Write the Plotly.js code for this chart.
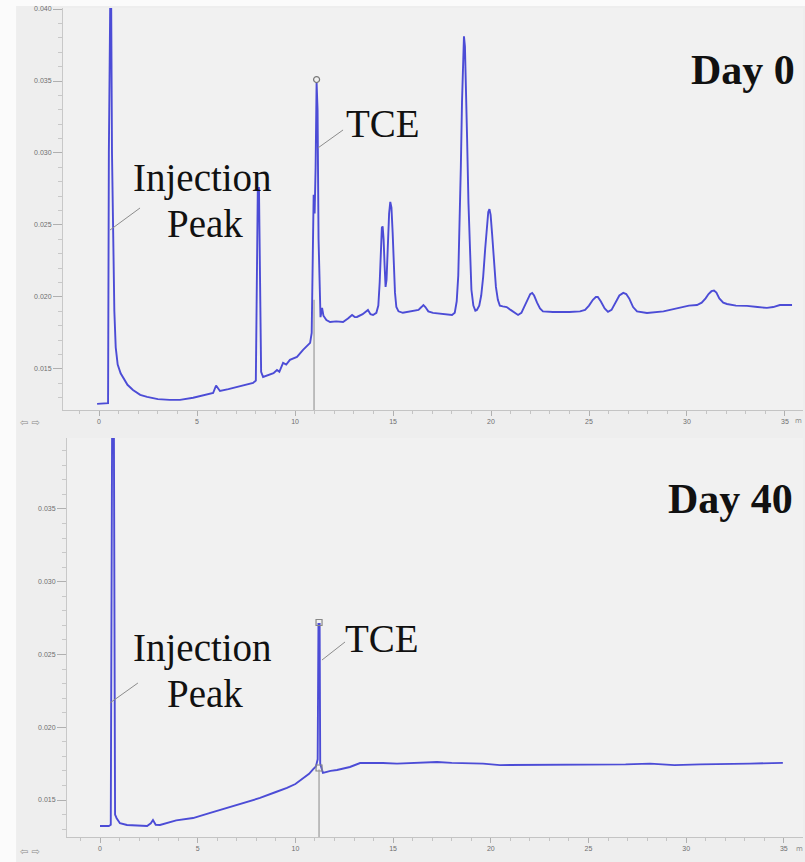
<!DOCTYPE html>
<html>
<head>
<meta charset="utf-8">
<script src="https://cdn.plot.ly/plotly-3.0.1.min.js"></script>
<style>html,body{margin:0;padding:0;background:#fff;}#chart{width:805px;height:862px;}</style>
</head>
<body>
<div id="chart"></div>
<script>
// Day 0 chromatogram (retention time in min, detector signal)
const day0Time = [-0.1,0.3,0.46,0.5,0.53,0.6,0.66,0.71,0.78,0.85,0.95,1.1,1.22,1.45,1.73,2.1,2.45,3.0,3.6,4.13,4.8,5.4,5.82,5.97,6.1,6.17,6.6,7.2,7.86,8.0,8.06,8.1,8.16,8.22,8.27,8.37,8.72,8.9,9.08,9.2,9.39,9.55,9.74,9.9,10.1,10.41,10.6,10.77,10.85,10.9,10.95,11.0,11.05,11.1,11.15,11.2,11.25,11.3,11.38,11.45,11.6,11.79,12.1,12.45,12.7,12.91,13.05,13.16,13.45,13.72,13.85,13.98,14.15,14.25,14.32,14.38,14.43,14.47,14.52,14.57,14.62,14.67,14.73,14.8,14.86,14.92,14.98,15.04,15.1,15.17,15.28,15.5,16.0,16.3,16.45,16.55,16.65,16.8,17.04,17.5,18.01,18.15,18.25,18.33,18.4,18.46,18.52,18.57,18.62,18.67,18.72,18.78,18.85,18.92,19.0,19.1,19.2,19.28,19.4,19.5,19.6,19.7,19.78,19.86,19.92,19.98,20.06,20.15,20.25,20.35,20.45,20.6,20.8,21.0,21.2,21.38,21.55,21.7,21.85,22.0,22.1,22.2,22.35,22.5,22.65,23.16,24.0,24.54,24.8,25.0,25.2,25.35,25.45,25.6,25.8,25.97,26.15,26.35,26.55,26.75,26.9,27.05,27.25,27.45,27.6,27.96,28.8,29.64,30.1,30.51,30.75,30.95,31.1,31.25,31.38,31.5,31.65,31.85,32.04,32.5,33.06,33.6,34.08,34.4,34.74,35.36];
const day0Signal = [0.01257,0.01257,0.01262,0.0300,0.0450,0.0450,0.0300,0.02444,0.0190,0.0165,0.0153,0.0147,0.01444,0.0139,0.01354,0.0132,0.01306,0.0129,0.01285,0.01285,0.0130,0.0132,0.01333,0.01385,0.0136,0.01347,0.0136,0.0138,0.01403,0.0142,0.0200,0.02757,0.02757,0.0200,0.0148,0.01444,0.01458,0.0147,0.01493,0.0148,0.01542,0.0153,0.01563,0.0157,0.01583,0.01632,0.0166,0.01681,0.0175,0.0220,0.0271,0.0258,0.0290,0.0349,0.0330,0.0240,0.0200,0.0186,0.01924,0.0187,0.0184,0.01826,0.0183,0.01826,0.0185,0.01875,0.0186,0.01861,0.0188,0.0191,0.0188,0.01875,0.0189,0.0194,0.0210,0.0234,0.0248,0.0249,0.0240,0.0222,0.0207,0.0212,0.0238,0.0258,0.0266,0.0262,0.0245,0.0222,0.0203,0.0193,0.0190,0.0189,0.0190,0.0191,0.0193,0.01944,0.0193,0.0190,0.01889,0.0188,0.01875,0.0189,0.0197,0.0215,0.0248,0.0290,0.0335,0.0366,0.0381,0.0374,0.0350,0.0310,0.0265,0.0228,0.0205,0.0194,0.01905,0.0191,0.0194,0.0201,0.0214,0.0233,0.0250,0.0259,0.0261,0.0257,0.0243,0.0224,0.0207,0.0198,0.0194,0.01935,0.0193,0.0191,0.0189,0.01875,0.0189,0.0193,0.0198,0.0202,0.02028,0.0201,0.0196,0.0192,0.0190,0.01896,0.01896,0.0190,0.0191,0.0194,0.0198,0.0200,0.0200,0.0197,0.0192,0.01896,0.0191,0.0196,0.0201,0.02028,0.0202,0.0199,0.0193,0.0190,0.01896,0.01889,0.0190,0.01924,0.0194,0.01944,0.0196,0.0199,0.0202,0.0204,0.02045,0.0203,0.0199,0.0196,0.01951,0.0194,0.01938,0.0193,0.01924,0.0193,0.01944,0.01944];

// Day 40 chromatogram
const day40Time = [0,0.45,0.55,0.6,0.63,0.7,0.74,0.77,0.85,1.02,1.38,2.0,2.41,2.6,2.71,2.85,3.07,3.9,4.76,5.6,6.5,7.4,8.19,9.0,9.57,10.0,10.39,10.7,10.9,11.05,11.14,11.18,11.24,11.27,11.41,11.8,12.13,12.79,13.31,14.0,14.48,15.2,16.22,17.25,18.0,18.78,19.6,20.47,21.7,23.03,24.3,25.59,26.9,28.15,29.4,30.71,32.0,33.26,34.95];
const day40Signal = [0.01321,0.01321,0.0133,0.0300,0.0450,0.0450,0.0250,0.0140,0.01375,0.0134,0.01328,0.01321,0.01321,0.0134,0.01362,0.0133,0.01328,0.0136,0.01376,0.0141,0.01445,0.0148,0.01514,0.01555,0.01583,0.0161,0.01651,0.0168,0.0171,0.0173,0.0178,0.0271,0.0271,0.0175,0.01686,0.0170,0.01706,0.01727,0.01754,0.01755,0.01754,0.0175,0.01754,0.01761,0.01755,0.01754,0.0175,0.0174,0.0174,0.0174,0.0174,0.0174,0.01745,0.0175,0.0174,0.01745,0.01745,0.0175,0.01755];

// Text labels and ticks
const panelLabels = ["Day 0", "Day 40"];
const peakLabels = ["Injection", "Peak", "TCE"];
const yTickVals = [0.015, 0.020, 0.025, 0.030, 0.035, 0.040];
const yTickText = ["0.015", "0.020", "0.025", "0.030", "0.035", "0.040"];
const xTickVals = [0, 5, 10, 15, 20, 25, 30, 35];

const lineColor = '#4c4cd6';
const traces = [
  {x: day0Time, y: day0Signal, xaxis: 'x', yaxis: 'y', mode: 'lines', line: {color: lineColor, width: 1.9}, hoverinfo: 'skip'},
  {x: day40Time, y: day40Signal, xaxis: 'x2', yaxis: 'y2', mode: 'lines', line: {color: lineColor, width: 1.9}, hoverinfo: 'skip'},
  {x: [11.1], y: [0.0351], xaxis: 'x', yaxis: 'y', mode: 'markers', marker: {symbol: 'circle-open', size: 6, color: '#777', line: {width: 1.2}}, hoverinfo: 'skip'},
  {x: [11.21, 11.21], y: [0.0272, 0.0172], xaxis: 'x2', yaxis: 'y2', mode: 'markers', marker: {symbol: 'square-open', size: 6, color: '#888', line: {width: 1.2}}, hoverinfo: 'skip'}
];

const tickFont = {family: 'Liberation Sans, Arial, sans-serif', size: 7, color: '#6e6e6e'};
function xAxis(domain, range, anchor) {
  return {domain: domain, range: range, anchor: anchor, showgrid: false, zeroline: false,
    showline: true, linecolor: '#c4c4c4', linewidth: 1, ticks: 'outside', ticklen: 5, tickcolor: '#b0b0b0',
    tickvals: xTickVals, tickfont: tickFont, automargin: false, fixedrange: true,
    minor: {ticks: 'outside', dtick: 1, ticklen: 3, tickcolor: '#c4c4c4'}};
}
function yAxis(domain, range, anchor) {
  return {domain: domain, range: range, anchor: anchor, showgrid: false, zeroline: false,
    showline: true, linecolor: '#c8c8c8', linewidth: 1, ticks: 'outside', ticklen: 9, tickcolor: '#b0b0b0',
    tickvals: yTickVals, ticktext: yTickText, tickfont: tickFont, automargin: false, fixedrange: true,
    minor: {ticks: 'outside', dtick: 0.001, tick0: 0, ticklen: 4, tickcolor: '#c8c8c8'}};
}

const serif = 'Liberation Serif, Times New Roman, serif';
function label(text, x, y, xref, yref, size, bold) {
  return {text: bold ? '<b>' + text + '</b>' : text, x: x, y: y, xref: xref, yref: yref,
    xanchor: 'center', yanchor: 'middle', showarrow: false,
    font: {family: serif, size: size, color: '#111'}};
}
function smallText(text, xpx, ypx, size) {
  return {text: text, x: xpx / 803, y: 1 - ypx / 862, xref: 'paper', yref: 'paper',
    xanchor: 'center', yanchor: 'middle', showarrow: false,
    font: {family: 'DejaVu Sans, sans-serif', size: size, color: '#8a8a8a'}};
}

const annotations = [
  label(panelLabels[0], 32.86, 0.03576, 'x', 'y', 42, true),
  label(peakLabels[0], 5.26, 0.02826, 'x', 'y', 39, false),
  label(peakLabels[1], 5.41, 0.02507, 'x', 'y', 39, false),
  label(peakLabels[2], 14.49, 0.03208, 'x', 'y', 39, false),
  label(panelLabels[1], 32.29, 0.03569, 'x2', 'y2', 42, true),
  label(peakLabels[0], 5.22, 0.02545, 'x2', 'y2', 39, false),
  label(peakLabels[1], 5.37, 0.02229, 'x2', 'y2', 39, false),
  label(peakLabels[2], 14.41, 0.02613, 'x2', 'y2', 39, false),
  smallText('⇦ ⇨', 30, 423, 10),
  smallText('⇦ ⇨', 30, 851, 10),
  smallText('m', 798, 421, 7),
  smallText('m', 799, 849, 7)
];

const gray = {color: '#8c8c8c', width: 1};
const shapes = [
  {type: 'rect', xref: 'paper', yref: 'paper', x0: -0.01, x1: 0.02, y0: 0, y1: 1, fillcolor: '#fbfbfb', line: {width: 0}, layer: 'below'},
  {type: 'rect', xref: 'paper', yref: 'paper', x0: -0.01, x1: 1.01, y0: 0.993, y1: 1.01, fillcolor: '#fbfbfb', line: {width: 0}, layer: 'below'},
  {type: 'line', xref: 'x', yref: 'y', x0: 10.97, x1: 10.97, y0: 0.0198, y1: 0.01215, line: {color: '#9a9a9a', width: 1.2}},
  {type: 'line', xref: 'x2', yref: 'y2', x0: 11.21, x1: 11.21, y0: 0.0171, y1: 0.012457, line: {color: '#9a9a9a', width: 1.2}},
  {type: 'line', xref: 'x', yref: 'y', x0: 0.56, y0: 0.02465, x1: 2.09, y1: 0.02618, line: gray},
  {type: 'line', xref: 'x', yref: 'y', x0: 11.17, y0: 0.03035, x1: 12.45, y1: 0.0316, line: gray},
  {type: 'line', xref: 'x2', yref: 'y2', x0: 0.51, y0: 0.02167, x1: 1.94, y1: 0.02304, line: gray},
  {type: 'line', xref: 'x2', yref: 'y2', x0: 11.36, y0: 0.02462, x1: 12.54, y1: 0.02586, line: gray}
];

const layout = {
  width: 805, height: 862,
  margin: {l: 0, r: 2, t: 0, b: 0},
  paper_bgcolor: '#eeeeee', plot_bgcolor: '#f1f1f1',
  showlegend: false,
  xaxis: xAxis([63 / 803, 1], [-1.84, 35.92], 'y'),
  yaxis: yAxis([0.5244, 0.9907], [0.01215, 0.04007], 'x'),
  xaxis2: xAxis([67 / 803, 1], [-1.69, 35.98], 'y2'),
  yaxis2: yAxis([0.029, 0.4919], [0.012457, 0.03988], 'x2'),
  annotations: annotations,
  shapes: shapes
};

Plotly.newPlot('chart', traces, layout, {staticPlot: true, displayModeBar: false});
</script>
</body>
</html>
